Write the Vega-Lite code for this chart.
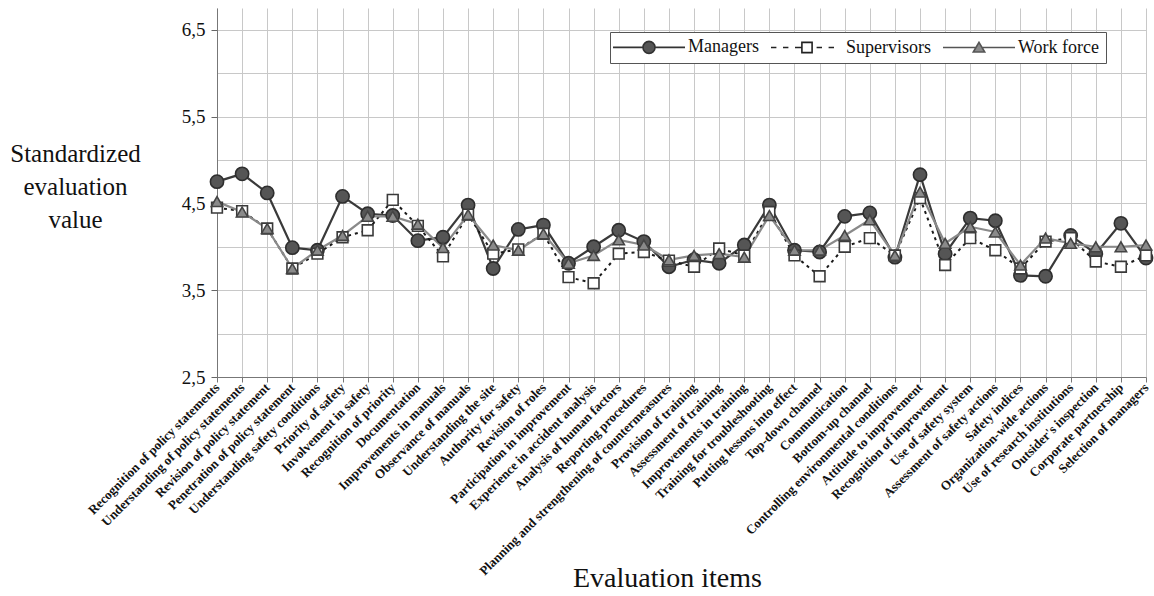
{
  "$schema": "https://vega.github.io/schema/vega-lite/v6.json",
  "width": 929,
  "height": 369,
  "autosize": {"type": "none"},
  "padding": {"left": 217, "top": 8, "right": 8, "bottom": 219},
  "background": "white",
  "config": {"font": "Liberation Serif", "view": {"stroke": null}},
  "data": {
    "values": [
      {"item": "Recognition of policy statements", "group": "Managers", "value": 4.75},
      {"item": "Understanding of policy statements", "group": "Managers", "value": 4.84},
      {"item": "Revision of policy statement", "group": "Managers", "value": 4.62},
      {"item": "Penetration of policy statement", "group": "Managers", "value": 3.99},
      {"item": "Understanding safety conditions", "group": "Managers", "value": 3.96},
      {"item": "Priority of safety", "group": "Managers", "value": 4.58},
      {"item": "Involvement in safety", "group": "Managers", "value": 4.38},
      {"item": "Recognition of priority", "group": "Managers", "value": 4.36},
      {"item": "Documentation", "group": "Managers", "value": 4.07},
      {"item": "Improvements in manuals", "group": "Managers", "value": 4.11},
      {"item": "Observance of manuals", "group": "Managers", "value": 4.48},
      {"item": "Understanding the site", "group": "Managers", "value": 3.75},
      {"item": "Authority for safety", "group": "Managers", "value": 4.2},
      {"item": "Revision of roles", "group": "Managers", "value": 4.25},
      {"item": "Participation in improvement", "group": "Managers", "value": 3.81},
      {"item": "Experience in accident analysis", "group": "Managers", "value": 4.0},
      {"item": "Analysis of human factors", "group": "Managers", "value": 4.19},
      {"item": "Reporting procedures", "group": "Managers", "value": 4.06},
      {"item": "Planning and strengthening of countermeasures", "group": "Managers", "value": 3.77},
      {"item": "Provision of training", "group": "Managers", "value": 3.85},
      {"item": "Assessment of training", "group": "Managers", "value": 3.81},
      {"item": "Improvements in training", "group": "Managers", "value": 4.02},
      {"item": "Training for troubleshooting", "group": "Managers", "value": 4.48},
      {"item": "Putting lessons into effect", "group": "Managers", "value": 3.96},
      {"item": "Top-down channel", "group": "Managers", "value": 3.94},
      {"item": "Communication", "group": "Managers", "value": 4.35},
      {"item": "Bottom-up channel", "group": "Managers", "value": 4.39},
      {"item": "Controlling environmental conditions", "group": "Managers", "value": 3.88},
      {"item": "Attitude to improvement", "group": "Managers", "value": 4.83},
      {"item": "Recognition of improvement", "group": "Managers", "value": 3.92},
      {"item": "Use of safety system", "group": "Managers", "value": 4.33},
      {"item": "Assessment of safety actions", "group": "Managers", "value": 4.3},
      {"item": "Safety indices", "group": "Managers", "value": 3.67},
      {"item": "Organization-wide actions", "group": "Managers", "value": 3.66},
      {"item": "Use of research institutions", "group": "Managers", "value": 4.13},
      {"item": "Outsider's inspection", "group": "Managers", "value": 3.92},
      {"item": "Corporate partnership", "group": "Managers", "value": 4.27},
      {"item": "Selection of managers", "group": "Managers", "value": 3.87},

      {"item": "Recognition of policy statements", "group": "Supervisors", "value": 4.45},
      {"item": "Understanding of policy statements", "group": "Supervisors", "value": 4.41},
      {"item": "Revision of policy statement", "group": "Supervisors", "value": 4.21},
      {"item": "Penetration of policy statement", "group": "Supervisors", "value": 3.75},
      {"item": "Understanding safety conditions", "group": "Supervisors", "value": 3.92},
      {"item": "Priority of safety", "group": "Supervisors", "value": 4.11},
      {"item": "Involvement in safety", "group": "Supervisors", "value": 4.19},
      {"item": "Recognition of priority", "group": "Supervisors", "value": 4.54},
      {"item": "Documentation", "group": "Supervisors", "value": 4.24},
      {"item": "Improvements in manuals", "group": "Supervisors", "value": 3.89},
      {"item": "Observance of manuals", "group": "Supervisors", "value": 4.37},
      {"item": "Understanding the site", "group": "Supervisors", "value": 3.92},
      {"item": "Authority for safety", "group": "Supervisors", "value": 3.97},
      {"item": "Revision of roles", "group": "Supervisors", "value": 4.15},
      {"item": "Participation in improvement", "group": "Supervisors", "value": 3.65},
      {"item": "Experience in accident analysis", "group": "Supervisors", "value": 3.58},
      {"item": "Analysis of human factors", "group": "Supervisors", "value": 3.92},
      {"item": "Reporting procedures", "group": "Supervisors", "value": 3.94},
      {"item": "Planning and strengthening of countermeasures", "group": "Supervisors", "value": 3.84},
      {"item": "Provision of training", "group": "Supervisors", "value": 3.77},
      {"item": "Assessment of training", "group": "Supervisors", "value": 3.98},
      {"item": "Improvements in training", "group": "Supervisors", "value": 3.9},
      {"item": "Training for troubleshooting", "group": "Supervisors", "value": 4.4},
      {"item": "Putting lessons into effect", "group": "Supervisors", "value": 3.9},
      {"item": "Top-down channel", "group": "Supervisors", "value": 3.66},
      {"item": "Communication", "group": "Supervisors", "value": 4.0},
      {"item": "Bottom-up channel", "group": "Supervisors", "value": 4.1},
      {"item": "Controlling environmental conditions", "group": "Supervisors", "value": 3.9},
      {"item": "Attitude to improvement", "group": "Supervisors", "value": 4.56},
      {"item": "Recognition of improvement", "group": "Supervisors", "value": 3.79},
      {"item": "Use of safety system", "group": "Supervisors", "value": 4.1},
      {"item": "Assessment of safety actions", "group": "Supervisors", "value": 3.96},
      {"item": "Safety indices", "group": "Supervisors", "value": 3.75},
      {"item": "Organization-wide actions", "group": "Supervisors", "value": 4.06},
      {"item": "Use of research institutions", "group": "Supervisors", "value": 4.1},
      {"item": "Outsider's inspection", "group": "Supervisors", "value": 3.83},
      {"item": "Corporate partnership", "group": "Supervisors", "value": 3.77},
      {"item": "Selection of managers", "group": "Supervisors", "value": 3.9},

      {"item": "Recognition of policy statements", "group": "Work force", "value": 4.52},
      {"item": "Understanding of policy statements", "group": "Work force", "value": 4.4},
      {"item": "Revision of policy statement", "group": "Work force", "value": 4.21},
      {"item": "Penetration of policy statement", "group": "Work force", "value": 3.75},
      {"item": "Understanding safety conditions", "group": "Work force", "value": 3.96},
      {"item": "Priority of safety", "group": "Work force", "value": 4.13},
      {"item": "Involvement in safety", "group": "Work force", "value": 4.35},
      {"item": "Recognition of priority", "group": "Work force", "value": 4.35},
      {"item": "Documentation", "group": "Work force", "value": 4.26},
      {"item": "Improvements in manuals", "group": "Work force", "value": 3.99},
      {"item": "Observance of manuals", "group": "Work force", "value": 4.37},
      {"item": "Understanding the site", "group": "Work force", "value": 4.02},
      {"item": "Authority for safety", "group": "Work force", "value": 3.96},
      {"item": "Revision of roles", "group": "Work force", "value": 4.15},
      {"item": "Participation in improvement", "group": "Work force", "value": 3.81},
      {"item": "Experience in accident analysis", "group": "Work force", "value": 3.9},
      {"item": "Analysis of human factors", "group": "Work force", "value": 4.08},
      {"item": "Reporting procedures", "group": "Work force", "value": 4.02},
      {"item": "Planning and strengthening of countermeasures", "group": "Work force", "value": 3.85},
      {"item": "Provision of training", "group": "Work force", "value": 3.9},
      {"item": "Assessment of training", "group": "Work force", "value": 3.92},
      {"item": "Improvements in training", "group": "Work force", "value": 3.88},
      {"item": "Training for troubleshooting", "group": "Work force", "value": 4.36},
      {"item": "Putting lessons into effect", "group": "Work force", "value": 3.96},
      {"item": "Top-down channel", "group": "Work force", "value": 3.96},
      {"item": "Communication", "group": "Work force", "value": 4.13},
      {"item": "Bottom-up channel", "group": "Work force", "value": 4.31},
      {"item": "Controlling environmental conditions", "group": "Work force", "value": 3.9},
      {"item": "Attitude to improvement", "group": "Work force", "value": 4.63},
      {"item": "Recognition of improvement", "group": "Work force", "value": 4.04},
      {"item": "Use of safety system", "group": "Work force", "value": 4.23},
      {"item": "Assessment of safety actions", "group": "Work force", "value": 4.17},
      {"item": "Safety indices", "group": "Work force", "value": 3.79},
      {"item": "Organization-wide actions", "group": "Work force", "value": 4.1},
      {"item": "Use of research institutions", "group": "Work force", "value": 4.04},
      {"item": "Outsider's inspection", "group": "Work force", "value": 4.0},
      {"item": "Corporate partnership", "group": "Work force", "value": 4.0},
      {"item": "Selection of managers", "group": "Work force", "value": 4.02}
    ]
  },
  "encoding": {
    "x": {
      "field": "item",
      "type": "nominal",
      "sort": null,
      "scale": {"type": "point", "padding": 0},
      "axis": {
        "title": "Evaluation items",
        "titleFont": "Liberation Serif",
        "titleFontSize": 28,
        "titleFontWeight": "normal",
        "titleColor": "#111",
        "titleX": 450,
        "titleY": 209,
        "titleAlign": "center",
        "titleBaseline": "alphabetic",
        "labelAngle": -45,
        "labelAlign": "right",
        "labelBaseline": "middle",
        "labelFont": "Liberation Serif",
        "labelFontSize": 13,
        "labelFontWeight": "bold",
        "labelColor": "#111",
        "labelPadding": 3,
        "labelLimit": 400,
        "labelOverlap": false,
        "grid": true,
        "gridColor": "#c8c8c8",
        "gridWidth": 1,
        "domainColor": "#777",
        "tickColor": "#777",
        "tickSize": 5
      }
    },
    "y": {
      "field": "value",
      "type": "quantitative",
      "scale": {"domain": [2.5, 6.75], "nice": false, "zero": false},
      "axis": {
        "values": [2.5, 3, 3.5, 4, 4.5, 5, 5.5, 6, 6.5],
        "labelExpr": "(datum.value * 2) % 2 == 1 ? replace(format(datum.value, '.1f'), '.', ',') : ''",
        "title": ["Standardized", "evaluation", "value"],
        "titleFont": "Liberation Serif",
        "titleFontSize": 25,
        "titleFontWeight": "normal",
        "titleColor": "#111",
        "titleAngle": 0,
        "titleAlign": "center",
        "titleBaseline": "alphabetic",
        "titleX": -142,
        "titleY": 153,
        "titleLineHeight": 33,
        "labelFont": "Liberation Serif",
        "labelFontSize": 19,
        "labelColor": "#111",
        "labelPadding": 6,
        "grid": true,
        "gridColor": "#c8c8c8",
        "gridWidth": 1,
        "domainColor": "#777",
        "tickColor": "#666",
        "tickSize": 6,
        "tickOpacity": {"condition": {"test": "(datum.value * 2) % 2 == 1", "value": 1}, "value": 0}
      }
    }
  },
  "layer": [
    {
      "transform": [{"filter": "datum.group === 'Managers'"}],
      "mark": {"type": "line", "color": "#3a3a3a", "strokeWidth": 2.2}
    },
    {
      "transform": [{"filter": "datum.group === 'Supervisors'"}],
      "mark": {"type": "line", "color": "#1a1a1a", "strokeWidth": 2, "strokeDash": [3, 4]}
    },
    {
      "transform": [{"filter": "datum.group === 'Work force'"}],
      "mark": {"type": "line", "color": "#8a8a8a", "strokeWidth": 2.2}
    },
    {
      "transform": [{"filter": "datum.group === 'Managers'"}],
      "mark": {"type": "point", "shape": "circle", "filled": true, "fill": "#555555", "stroke": "#2e2e2e", "strokeWidth": 1.6, "size": 175, "opacity": 1}
    },
    {
      "transform": [{"filter": "datum.group === 'Supervisors'"}],
      "mark": {"type": "point", "shape": "square", "filled": true, "fill": "#ffffff", "stroke": "#3a3a3a", "strokeWidth": 1.6, "size": 115, "opacity": 1}
    },
    {
      "transform": [{"filter": "datum.group === 'Work force'"}],
      "mark": {"type": "point", "shape": "triangle-up", "filled": true, "fill": "#8a8a8a", "stroke": "#444444", "strokeWidth": 1.6, "size": 130, "opacity": 1}
    },
    {
      "transform": [{"filter": "false"}],
      "mark": {"type": "point", "filled": true},
      "encoding": {
        "shape": {
          "field": "group",
          "type": "nominal",
          "scale": {
            "domain": ["Managers", "Supervisors", "Work force"],
            "range": [
              "M-2,0L3,0M5,0L10,0M3,0A1,1 0 1,1 5,0A1,1 0 1,1 3,0Z",
              "M-2,0L-1.1,0M0,0L0.9,0M2,0L3.15,0M3.15,-0.85L4.85,-0.85L4.85,0.85L3.15,0.85ZM5.6,0L6.5,0M7.6,0L8.5,0",
              "M-2,0L3.45,0M4.55,0L10,0M4,-0.85L4.95,0.75L3.05,0.75Z"
            ]
          },
          "legend": {
            "title": null,
            "orient": "none",
            "legendX": 393,
            "legendY": 24,
            "direction": "horizontal",
            "columns": 3,
            "columnPadding": 8,
            "padding": 6,
            "strokeColor": "#555",
            "fillColor": "white",
            "symbolSize": 144,
            "symbolStrokeWidth": 1.6,
            "symbolOpacity": 1,
            "labelFont": "Liberation Serif",
            "labelFontSize": 18,
            "labelColor": "#111",
            "labelOffset": 54,
            "labelLimit": 200
          }
        },
        "fill": {
          "field": "group",
          "type": "nominal",
          "scale": {"domain": ["Managers", "Supervisors", "Work force"], "range": ["#555555", "#ffffff", "#8a8a8a"]}
        },
        "stroke": {
          "field": "group",
          "type": "nominal",
          "scale": {"domain": ["Managers", "Supervisors", "Work force"], "range": ["#333333", "#222222", "#555555"]}
        }
      }
    }
  ]
}
